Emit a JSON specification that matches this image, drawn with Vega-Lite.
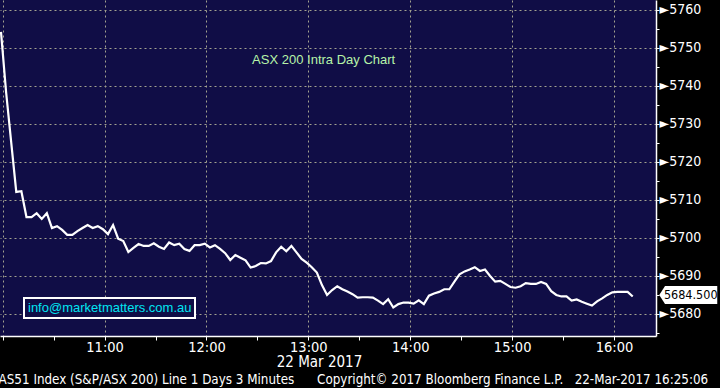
{
  "$schema": "https://vega.github.io/schema/vega-lite/v6.json",
  "width": 656,
  "height": 336,
  "autosize": {"type": "none"},
  "padding": {"left": 0, "top": 0, "right": 64, "bottom": 52},
  "background": "black",
  "title": {
    "text": "AS51 Index (S&P/ASX 200) Line 1 Days 3 Minutes\u00a0\u00a0\u00a0\u00a0\u00a0\u00a0Copyright© 2017 Bloomberg Finance L.P.\u00a0\u00a0\u00a022-Mar-2017 16:25:06",
    "orient": "bottom",
    "anchor": "start",
    "offset": 3,
    "dx": 2,
    "color": "white",
    "font": "Liberation Sans Narrow, DejaVu Sans Condensed, Liberation Sans, sans-serif",
    "fontSize": 13.3,
    "fontWeight": "normal"
  },
  "datasets": {
    "asx": [
      {"t": "2017-03-22T09:59", "v": 5754.1}, {"t": "2017-03-22T10:02", "v": 5738.3}, {"t": "2017-03-22T10:05", "v": 5725.1}, {"t": "2017-03-22T10:08", "v": 5712.0},
      {"t": "2017-03-22T10:11", "v": 5712.2}, {"t": "2017-03-22T10:14", "v": 5705.4}, {"t": "2017-03-22T10:17", "v": 5705.4}, {"t": "2017-03-22T10:20", "v": 5706.4},
      {"t": "2017-03-22T10:23", "v": 5704.9}, {"t": "2017-03-22T10:26", "v": 5706.4}, {"t": "2017-03-22T10:29", "v": 5702.5}, {"t": "2017-03-22T10:32", "v": 5703.0},
      {"t": "2017-03-22T10:35", "v": 5702.0}, {"t": "2017-03-22T10:38", "v": 5700.7}, {"t": "2017-03-22T10:41", "v": 5700.7}, {"t": "2017-03-22T10:44", "v": 5701.7},
      {"t": "2017-03-22T10:47", "v": 5702.5}, {"t": "2017-03-22T10:50", "v": 5703.3}, {"t": "2017-03-22T10:53", "v": 5702.5}, {"t": "2017-03-22T10:56", "v": 5703.0},
      {"t": "2017-03-22T10:59", "v": 5702.2}, {"t": "2017-03-22T11:02", "v": 5700.9}, {"t": "2017-03-22T11:05", "v": 5703.3}, {"t": "2017-03-22T11:08", "v": 5699.7},
      {"t": "2017-03-22T11:11", "v": 5699.1}, {"t": "2017-03-22T11:14", "v": 5696.2}, {"t": "2017-03-22T11:17", "v": 5697.3}, {"t": "2017-03-22T11:20", "v": 5698.3},
      {"t": "2017-03-22T11:23", "v": 5697.8}, {"t": "2017-03-22T11:26", "v": 5697.8}, {"t": "2017-03-22T11:29", "v": 5698.5}, {"t": "2017-03-22T11:32", "v": 5697.6},
      {"t": "2017-03-22T11:35", "v": 5697.0}, {"t": "2017-03-22T11:38", "v": 5698.7}, {"t": "2017-03-22T11:41", "v": 5698.0}, {"t": "2017-03-22T11:44", "v": 5698.4},
      {"t": "2017-03-22T11:47", "v": 5697.0}, {"t": "2017-03-22T11:50", "v": 5696.5}, {"t": "2017-03-22T11:53", "v": 5698.0}, {"t": "2017-03-22T11:56", "v": 5698.0},
      {"t": "2017-03-22T11:59", "v": 5698.4}, {"t": "2017-03-22T12:02", "v": 5697.4}, {"t": "2017-03-22T12:05", "v": 5698.0}, {"t": "2017-03-22T12:08", "v": 5697.0},
      {"t": "2017-03-22T12:11", "v": 5695.9}, {"t": "2017-03-22T12:14", "v": 5694.1}, {"t": "2017-03-22T12:17", "v": 5695.4}, {"t": "2017-03-22T12:20", "v": 5694.7},
      {"t": "2017-03-22T12:23", "v": 5694.0}, {"t": "2017-03-22T12:26", "v": 5692.1}, {"t": "2017-03-22T12:29", "v": 5692.5}, {"t": "2017-03-22T12:32", "v": 5693.3},
      {"t": "2017-03-22T12:35", "v": 5693.2}, {"t": "2017-03-22T12:38", "v": 5693.8}, {"t": "2017-03-22T12:41", "v": 5696.1}, {"t": "2017-03-22T12:44", "v": 5697.6},
      {"t": "2017-03-22T12:47", "v": 5696.4}, {"t": "2017-03-22T12:50", "v": 5697.8}, {"t": "2017-03-22T12:53", "v": 5696.1}, {"t": "2017-03-22T12:56", "v": 5694.4},
      {"t": "2017-03-22T12:59", "v": 5693.4}, {"t": "2017-03-22T13:02", "v": 5692.2}, {"t": "2017-03-22T13:05", "v": 5690.8}, {"t": "2017-03-22T13:08", "v": 5687.5},
      {"t": "2017-03-22T13:11", "v": 5684.9}, {"t": "2017-03-22T13:14", "v": 5686.2}, {"t": "2017-03-22T13:17", "v": 5687.2}, {"t": "2017-03-22T13:20", "v": 5686.4},
      {"t": "2017-03-22T13:23", "v": 5685.8}, {"t": "2017-03-22T13:26", "v": 5685.1}, {"t": "2017-03-22T13:29", "v": 5684.2}, {"t": "2017-03-22T13:32", "v": 5684.3},
      {"t": "2017-03-22T13:35", "v": 5684.3}, {"t": "2017-03-22T13:38", "v": 5684.2}, {"t": "2017-03-22T13:41", "v": 5683.4}, {"t": "2017-03-22T13:44", "v": 5682.5},
      {"t": "2017-03-22T13:47", "v": 5683.8}, {"t": "2017-03-22T13:50", "v": 5681.6}, {"t": "2017-03-22T13:53", "v": 5682.5}, {"t": "2017-03-22T13:56", "v": 5682.9},
      {"t": "2017-03-22T13:59", "v": 5682.9}, {"t": "2017-03-22T14:02", "v": 5682.6}, {"t": "2017-03-22T14:05", "v": 5683.5}, {"t": "2017-03-22T14:08", "v": 5682.5},
      {"t": "2017-03-22T14:11", "v": 5684.7}, {"t": "2017-03-22T14:14", "v": 5685.3}, {"t": "2017-03-22T14:17", "v": 5685.7}, {"t": "2017-03-22T14:20", "v": 5686.4},
      {"t": "2017-03-22T14:23", "v": 5686.4}, {"t": "2017-03-22T14:26", "v": 5688.4}, {"t": "2017-03-22T14:29", "v": 5690.3}, {"t": "2017-03-22T14:32", "v": 5691.1},
      {"t": "2017-03-22T14:35", "v": 5691.6}, {"t": "2017-03-22T14:38", "v": 5692.2}, {"t": "2017-03-22T14:41", "v": 5691.2}, {"t": "2017-03-22T14:44", "v": 5691.6},
      {"t": "2017-03-22T14:47", "v": 5689.9}, {"t": "2017-03-22T14:50", "v": 5688.4}, {"t": "2017-03-22T14:53", "v": 5688.6}, {"t": "2017-03-22T14:56", "v": 5687.8},
      {"t": "2017-03-22T14:59", "v": 5687.0}, {"t": "2017-03-22T15:02", "v": 5686.8}, {"t": "2017-03-22T15:05", "v": 5687.2}, {"t": "2017-03-22T15:08", "v": 5688.0},
      {"t": "2017-03-22T15:11", "v": 5687.8}, {"t": "2017-03-22T15:14", "v": 5687.8}, {"t": "2017-03-22T15:17", "v": 5688.3}, {"t": "2017-03-22T15:20", "v": 5687.8},
      {"t": "2017-03-22T15:23", "v": 5685.9}, {"t": "2017-03-22T15:26", "v": 5684.9}, {"t": "2017-03-22T15:29", "v": 5684.5}, {"t": "2017-03-22T15:32", "v": 5684.5},
      {"t": "2017-03-22T15:35", "v": 5683.4}, {"t": "2017-03-22T15:38", "v": 5683.7}, {"t": "2017-03-22T15:41", "v": 5683.1}, {"t": "2017-03-22T15:44", "v": 5682.6},
      {"t": "2017-03-22T15:47", "v": 5682.1}, {"t": "2017-03-22T15:50", "v": 5683.2}, {"t": "2017-03-22T15:53", "v": 5684.0}, {"t": "2017-03-22T15:56", "v": 5684.9},
      {"t": "2017-03-22T15:59", "v": 5685.6}, {"t": "2017-03-22T16:02", "v": 5685.7}, {"t": "2017-03-22T16:05", "v": 5685.7}, {"t": "2017-03-22T16:08", "v": 5685.7},
      {"t": "2017-03-22T16:11", "v": 5684.5}
    ]
  },
  "layer": [
    {
      "data": {"name": "asx"},
      "mark": {"type": "line", "strokeWidth": 2.2},
      "encoding": {
        "x": {
          "field": "t",
          "type": "temporal",
          "scale": {
            "domain": [
              {"year": 2017, "month": 3, "date": 22, "hours": 9, "minutes": 58, "seconds": 25},
              {"year": 2017, "month": 3, "date": 22, "hours": 16, "minutes": 24, "seconds": 42}
            ],
            "nice": false
          },
          "axis": {
            "values": [
              {"year": 2017, "month": 3, "date": 22, "hours": 10, "minutes": 0},
              {"year": 2017, "month": 3, "date": 22, "hours": 10, "minutes": 30},
              {"year": 2017, "month": 3, "date": 22, "hours": 11, "minutes": 0},
              {"year": 2017, "month": 3, "date": 22, "hours": 11, "minutes": 30},
              {"year": 2017, "month": 3, "date": 22, "hours": 12, "minutes": 0},
              {"year": 2017, "month": 3, "date": 22, "hours": 12, "minutes": 30},
              {"year": 2017, "month": 3, "date": 22, "hours": 13, "minutes": 0},
              {"year": 2017, "month": 3, "date": 22, "hours": 13, "minutes": 30},
              {"year": 2017, "month": 3, "date": 22, "hours": 14, "minutes": 0},
              {"year": 2017, "month": 3, "date": 22, "hours": 14, "minutes": 30},
              {"year": 2017, "month": 3, "date": 22, "hours": 15, "minutes": 0},
              {"year": 2017, "month": 3, "date": 22, "hours": 15, "minutes": 30},
              {"year": 2017, "month": 3, "date": 22, "hours": 16, "minutes": 0}
            ],
            "tickCount": 20,
            "labelExpr": "minutes(datum.value) == 0 && hours(datum.value) > 10 ? timeFormat(datum.value, '%H:%M') : ''",
            "labelFlush": false,
            "labelOverlap": false,
            "labelColor": "white",
            "labelFont": "Liberation Sans Narrow, DejaVu Sans Condensed, Liberation Sans, sans-serif",
            "labelFontSize": 14.5,
            "labelPadding": 0,
            "tickColor": "white",
            "tickSize": 4,
            "tickWidth": 1,
            "domainColor": "white",
            "domainWidth": 1.5,
            "grid": true,
            "gridColor": "#a3a28f",
            "gridDash": [2, 3],
            "gridWidth": 1,
            "gridOpacity": {"condition": {"test": "minutes(datum.value) == 0", "value": 1}, "value": 0},
            "title": "22 Mar 2017",
            "titleColor": "white",
            "titleFont": "Liberation Sans Narrow, DejaVu Sans Condensed, Liberation Sans, sans-serif",
            "titleFontSize": 15,
            "titleFontWeight": "normal",
            "titlePadding": 1,
            "titleX": 319
          }
        },
        "y": {
          "field": "v",
          "type": "quantitative",
          "scale": {"domain": [5674.1, 5762.5], "nice": false, "zero": false},
          "axis": {
            "orient": "right",
            "values": [5675, 5680, 5685, 5690, 5695, 5700, 5705, 5710, 5715, 5720, 5725, 5730, 5735, 5740, 5745, 5750, 5755, 5760],
            "tickCount": 40,
            "labelExpr": "datum.value % 10 == 0 ? '►' + datum.label : ''",
            "format": "d",
            "labelColor": "white",
            "labelFont": "Liberation Sans Narrow, DejaVu Sans Condensed, Liberation Sans, sans-serif",
            "labelFontSize": 14,
            "labelPadding": 0,
            "labelOverlap": false,
            "tickColor": "white",
            "tickSize": 3,
            "domainColor": "white",
            "domainWidth": 1.5,
            "grid": true,
            "gridColor": "#a3a28f",
            "gridDash": [2, 3],
            "gridWidth": 1,
            "gridOpacity": {"condition": {"test": "datum.value % 10 == 0", "value": 1}, "value": 0},
            "title": null
          }
        },
        "color": {
          "datum": "info@marketmatters.com.au",
          "type": "nominal",
          "scale": {"range": ["white"]},
          "legend": {
            "orient": "none",
            "legendX": 24,
            "legendY": 298,
            "title": null,
            "padding": 3,
            "strokeColor": "white",
            "fillColor": "#100d46",
            "labelColor": "#00e5f2",
            "labelFont": "Liberation Sans, Arial, sans-serif",
            "labelFontSize": 13,
            "labelLimit": 400,
            "labelOffset": -12,
            "symbolType": "circle",
            "symbolSize": 1,
            "symbolStrokeWidth": 0,
            "symbolOpacity": 0
          }
        }
      }
    },
    {
      "data": {"values": [{}]},
      "mark": {"type": "text", "color": "#b6f3a8", "font": "Liberation Sans, Arial, sans-serif", "fontSize": 13, "align": "center", "baseline": "middle"},
      "encoding": {
        "x": {"datum": {"year": 2017, "month": 3, "date": 22, "hours": 13, "minutes": 9}, "type": "temporal"},
        "y": {"datum": 5746.7, "type": "quantitative"},
        "text": {"value": "ASX 200 Intra Day Chart"}
      }
    },
    {
      "data": {"name": "asx"},
      "transform": [
        {"window": [{"op": "row_number", "as": "rn"}], "sort": [{"field": "t", "order": "descending"}]},
        {"filter": "datum.rn == 1"}
      ],
      "layer": [
        {
          "mark": {"type": "point", "shape": "M -1 0 L -0.8 -0.31 L 1 -0.31 L 1 0.31 L -0.8 0.31 Z", "filled": true, "fill": "white", "opacity": 1, "size": 3364, "xOffset": 55.5, "yOffset": -1.4, "clip": false},
          "encoding": {
            "x": {"field": "t", "type": "temporal"},
            "y": {"field": "v", "type": "quantitative"}
          }
        },
        {
          "mark": {"type": "text", "color": "black", "font": "Liberation Sans Narrow, DejaVu Sans Condensed, Liberation Sans, sans-serif", "fontSize": 12.5, "align": "center", "baseline": "middle", "xOffset": 58, "yOffset": -1.4, "clip": false},
          "encoding": {
            "x": {"field": "t", "type": "temporal"},
            "y": {"field": "v", "type": "quantitative"},
            "text": {"field": "v", "type": "quantitative", "format": ".3f"}
          }
        }
      ]
    }
  ],
  "config": {
    "view": {"fill": "#100d46", "stroke": null},
    "legend": {"strokeWidth": 2}
  }
}
